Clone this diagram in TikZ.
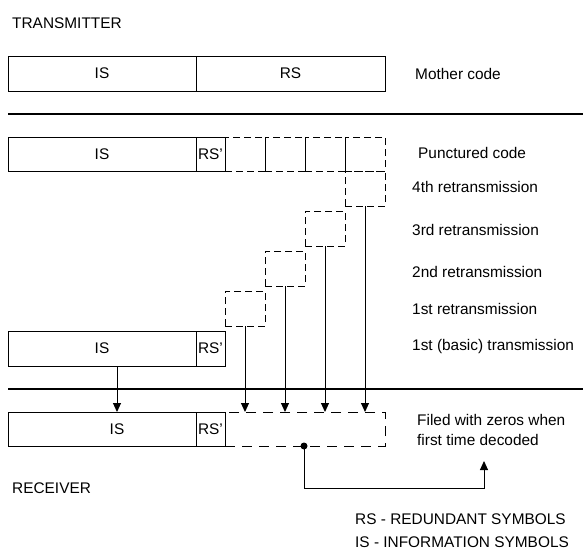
\documentclass[tikz,border=0pt]{standalone}
\usepackage{fontspec}
\setmainfont{Liberation Sans}
\usetikzlibrary{arrows.meta, positioning}

\begin{document}
\begin{tikzpicture}[x=1pt,y=-1pt,
	font=\fontsize{15.4}{20}\selectfont,
	cell/.style={draw,line width=1pt,inner sep=0pt,outer sep=0pt,minimum height=35pt},
	dcell/.style={cell,dash pattern=on 7pt off 4pt,minimum width=40pt},
	lbl/.style={anchor=west,inner sep=0pt},
	sepline/.style={line width=2.2pt},
	tx/.style={draw,line width=1pt,-{Triangle[width=8pt,length=9pt]}}]
\useasboundingbox (0,0) rectangle (583,552);
\node[lbl] (tx) at (12,23) {TRANSMITTER};
\node[cell,minimum width=188pt,anchor=north west] (mIS) at (8,56) {IS};
\node[cell,minimum width=189pt,right=0pt of mIS] (mRS) {RS};
\node[lbl] (mother) at (415,74) {Mother code};
\coordinate (s1l) at (8,114);
\coordinate (s1r) at (583,114);
\draw[sepline] (s1l) -- (s1r);
\node[cell,minimum width=188pt,minimum height=34pt,anchor=north west] (pIS) at (8,137) {IS};
\node[cell,minimum width=29pt,minimum height=34pt,right=0pt of pIS] (pRS) {RS'};
\node[dcell,minimum height=34pt,right=0pt of pRS] (p1) {};
\node[dcell,minimum height=34pt,right=0pt of p1] (p2) {};
\node[dcell,minimum height=34pt,right=0pt of p2] (p3) {};
\node[dcell,minimum height=34pt,right=0pt of p3] (p4) {};
\node[lbl] (punct) at (418,153) {Punctured code};
\node[dcell,below=0pt of p4] (r4) {};
\node[dcell,anchor=north east] (r3) at ([yshift=-5pt]r4.south west) {};
\node[dcell,anchor=north east] (r2) at ([yshift=-5pt]r3.south west) {};
\node[dcell,anchor=north east] (r1) at ([yshift=-5pt]r2.south west) {};
\node[lbl] (re4) at (412,187) {4th retransmission};
\node[lbl] (re3) at (412,230) {3rd retransmission};
\node[lbl] (re2) at (412,272) {2nd retransmission};
\node[lbl] (re1) at (412,309) {1st retransmission};
\node[lbl] (basic) at (412,347) {1st (basic) transmission};
\node[cell,minimum width=188pt,anchor=north west] (bIS) at (8,331) {IS};
\node[cell,minimum width=29pt,right=0pt of bIS] (bRS) {RS'};
\coordinate (s2l) at (8,389);
\coordinate (s2r) at (583,389);
\draw[sepline] (s2l) -- (s2r);
\node[cell,minimum width=188pt,minimum height=34pt,anchor=north west] (rxIS) at (8,412) {};
\node (rxISlbl) at (117,429) {IS};
\node[cell,minimum width=29pt,minimum height=34pt,right=0pt of rxIS] (rxRS) {RS'};
\node[cell,dash pattern=on 10pt off 7pt,minimum width=160pt,minimum height=34pt,right=0pt of rxRS] (rxZ) {};
\node[lbl,align=left] (zeros) at (417,430) {Filed with zeros when\\first time decoded};
\node[lbl] (rx) at (12,488) {RECEIVER};
\node[lbl] (leg1) at (355,519) {RS - REDUNDANT SYMBOLS};
\node[lbl] (leg2) at (355,542) {IS - INFORMATION SYMBOLS};
\draw[tx] (bIS.south -| rxISlbl) -- (rxIS.north -| rxISlbl);
\draw[tx] (r1.south) -- (r1.south |- rxZ.north);
\draw[tx] (r2.south) -- (r2.south |- rxZ.north);
\draw[tx] (r3.south) -- (r3.south |- rxZ.north);
\draw[tx] (r4.south) -- (r4.south |- rxZ.north);
\coordinate (dot) at (304,446);
\coordinate (zeroarr) at (484,461);
\fill (dot) circle (3.5);
\draw[tx] (dot) -- ++(0,42) -| (zeroarr);
\end{tikzpicture}
\end{document}
